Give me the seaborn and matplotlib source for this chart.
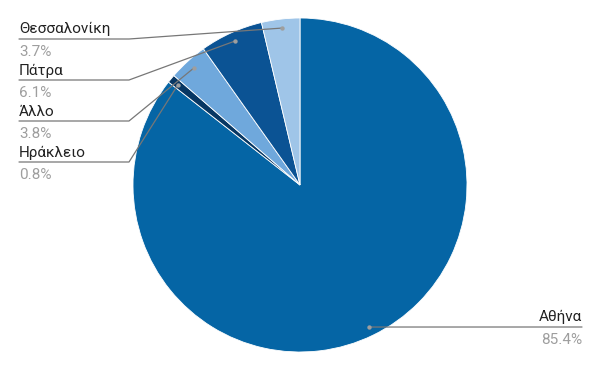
import numpy as np
import matplotlib
matplotlib.use("Agg")
import matplotlib.pyplot as plt
import seaborn as sns

labels = ["Αθήνα", "Ηράκλειο", "Άλλο", "Πάτρα", "Θεσσαλονίκη"]
values = [85.4, 0.8, 3.8, 6.1, 3.7]
pct_labels = ["85.4%", "0.8%", "3.8%", "6.1%", "3.7%"]
colors = ["#0565a5", "#073763", "#6fa8dc", "#0b5394", "#9fc5e8"]

sns.set_theme(style="white")
plt.rcParams['font.family'] = ['Roboto', 'DejaVu Sans']

W, H = 600, 371
fig = plt.figure(figsize=(6, 3.71), dpi=100)
ax = fig.add_axes([0, 0, 1, 1])
cx, cy, r = 300, 185, 167

wedges, _ = ax.pie(values, colors=sns.color_palette(colors), startangle=90,
                   counterclock=False, center=(cx, H - cy), radius=r,
                   wedgeprops=dict(edgecolor="white", linewidth=0.6), frame=True)
ax.set_xlim(0, W)
ax.set_ylim(0, H)
ax.set_aspect("equal")
ax.axis("off")

# label layout (pixel rows from top)
layout = {
    "Αθήνα": ("right", 327),
    "Ηράκλειο": ("left", 162),
    "Άλλο": ("left", 121),
    "Πάτρα": ("left", 80),
    "Θεσσαλονίκη": ("left", 39),
}
line_col = "#777777"
for w, lab, pct in zip(wedges, labels, pct_labels):
    th = np.deg2rad((w.theta1 + w.theta2) / 2)
    dx = cx + 0.946 * r * np.cos(th)
    dy = (H - cy) + 0.946 * r * np.sin(th)
    side, ly = layout[lab]
    Y = H - ly
    if side == "left":
        ax.plot([19, 129, dx], [Y, Y, dy], color=line_col, lw=0.9, zorder=5)
        tx, ha = 19, "left"
    else:
        ax.plot([dx, 582], [dy, Y], color=line_col, lw=0.9, zorder=5)
        tx, ha = 582, "right"
    ax.scatter([dx], [dy], s=10, color="#9e9e9e", zorder=6, linewidths=0)
    ax.text(tx, Y + 5.5, lab, ha=ha, va="baseline", fontsize=11, color="#222222")
    ax.text(tx, Y - 16.7, pct, ha=ha, va="baseline", fontsize=11, color="#9e9e9e")

fig.savefig("out.png", dpi=100)
